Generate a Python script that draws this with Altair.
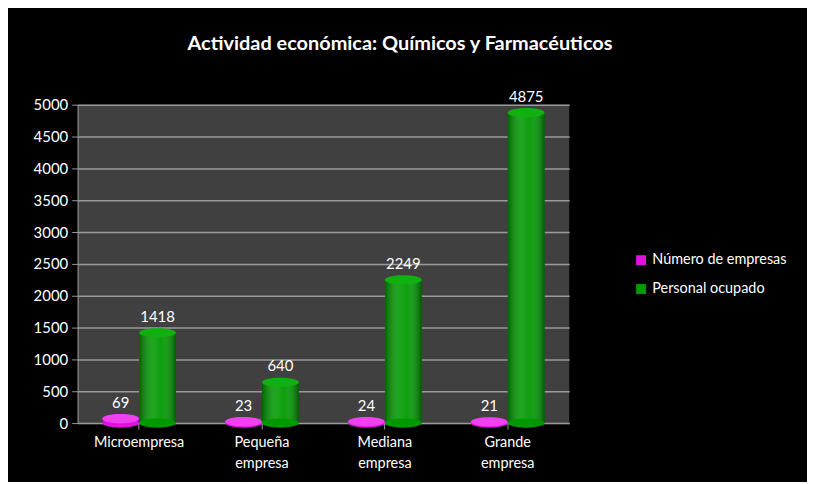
import altair as alt
import pandas as pd

categories = ["Microempresa", "Pequeña empresa", "Mediana empresa", "Grande empresa"]
series = ["Número de empresas", "Personal ocupado"]
num_empresas = [69, 23, 24, 21]
personal = [1418, 640, 2249, 4875]
colors = ["#e010e0", "#009a00"]
top_colors = ["#f040f0", "#10b010"]
y_ticks = list(range(0, 5001, 500))

rows = []
for c, v in zip(categories, num_empresas):
    rows.append({"cat": c, "serie": series[0], "valor": v, "base": 0})
for c, v in zip(categories, personal):
    rows.append({"cat": c, "serie": series[1], "valor": v, "base": 0})
df = pd.DataFrame(rows)

FONT = "Lato"
ELLIPSE = "M-1,0 A1,0.25 0 1,0 1,0 A1,0.25 0 1,0 -1,0 Z"

x_enc = alt.X("cat:N", sort=categories, title=None,
              scale=alt.Scale(paddingInner=0.4, paddingOuter=0.2),
              axis=alt.Axis(labelAngle=0, labelColor="white", labelFontSize=14.5,
                            labelFont=FONT, labelExpr="split(datum.label, ' ')",
                            labelPadding=7, domainColor="#9a9a9a", tickColor="#9a9a9a",
                            tickSize=6, labelLineHeight=21))
xo = alt.XOffset("serie:N", sort=series)
y_scale = alt.Scale(domain=[0, 5000], nice=False)
y_axis = alt.Axis(values=y_ticks, format="d", labelColor="white", labelFontSize=15,
                  labelFont=FONT, gridColor="#9a9a9a", gridWidth=1.5,
                  domainColor="#9a9a9a", tickColor="#9a9a9a", tickSize=6,
                  minExtent=65, labelPadding=4, labelOverlap=False)
y_enc = alt.Y("valor:Q", title=None, scale=y_scale, axis=y_axis)
y_base = alt.Y("base:Q", title=None, scale=y_scale, axis=y_axis)

base = alt.Chart(df)

bars = base.mark_bar().encode(
    x=x_enc, xOffset=xo, y=y_enc,
    color=alt.Color("serie:N", sort=series,
                    scale=alt.Scale(domain=series, range=colors),
                    legend=alt.Legend(title=None, orient="none", legendX=559, legendY=149,
                                      labelColor="white", labelFontSize=14.5, labelFont=FONT,
                                      symbolType="square", symbolSize=100,
                                      symbolStrokeWidth=0, rowPadding=14)),
)

shade = base.mark_bar(
    color=alt.Gradient(
        gradient="linear", x1=0, x2=1, y1=0, y2=0,
        stops=[
            alt.GradientStop(offset=0, color="rgba(0,0,0,0.35)"),
            alt.GradientStop(offset=0.4, color="rgba(255,255,255,0.12)"),
            alt.GradientStop(offset=0.6, color="rgba(255,255,255,0.05)"),
            alt.GradientStop(offset=1, color="rgba(0,0,0,0.4)"),
        ],
    )
).encode(x=x_enc, xOffset=xo, y=y_enc)

bottoms = base.mark_point(shape=ELLIPSE, filled=True, opacity=1, size=1369).encode(
    x=alt.X("cat:N", sort=categories, bandPosition=0.5), xOffset=xo,
    y=y_base,
    color=alt.Color("serie:N", sort=series, scale=alt.Scale(domain=series, range=colors),
                    legend=None),
)

tops = base.mark_point(shape=ELLIPSE, filled=True, opacity=1, size=1369).encode(
    x=alt.X("cat:N", sort=categories, bandPosition=0.5), xOffset=xo, y=y_enc,
    color=alt.Color("serie:N", sort=series, scale=alt.Scale(domain=series, range=top_colors),
                    legend=None),
)

labels = base.mark_text(dy=-16, color="white", fontSize=15, font=FONT).encode(
    x=x_enc, xOffset=xo, y=y_enc, text=alt.Text("valor:Q", format="d")
)

chart = alt.layer(bars, shade, bottoms, tops, labels).resolve_scale(color="independent").properties(
    width=494, height=320,
    background="black",
    padding={"left": 5, "top": 25, "right": 20, "bottom": 10},
    title=alt.TitleParams("Actividad económica: Químicos y Farmacéuticos",
                          color="white", fontSize=20, font=FONT, fontWeight="bold",
                          anchor="middle", frame="bounds", offset=36),
).configure_view(fill="#404040", stroke=None)

chart.save("out.html", embed_options={"renderer": "svg", "actions": False})
